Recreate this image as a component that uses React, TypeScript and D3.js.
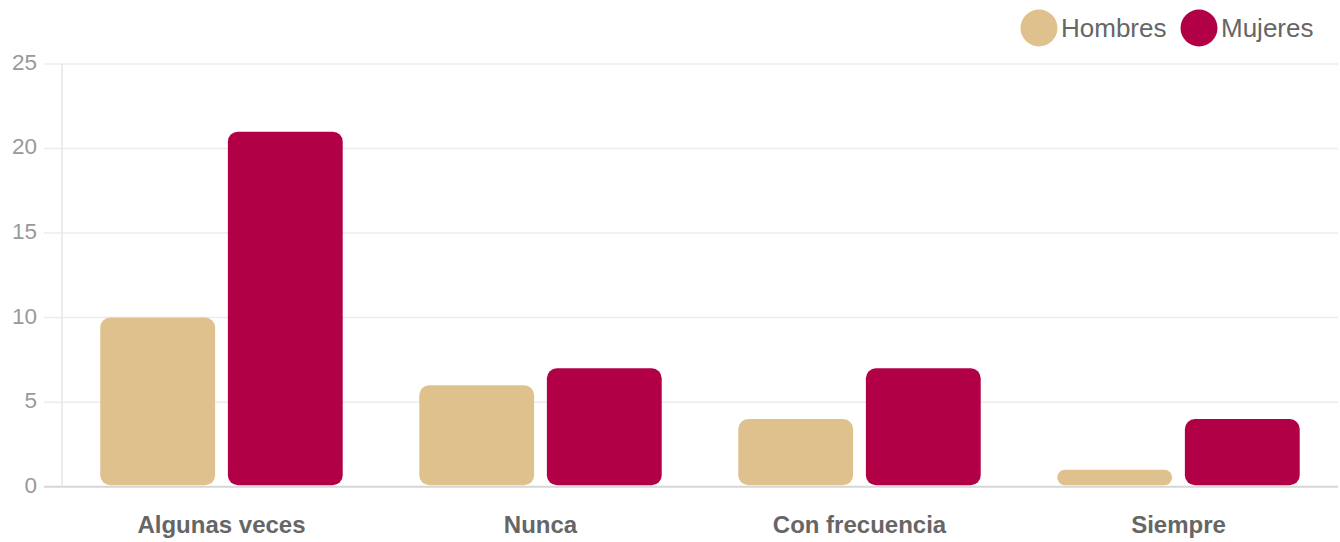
import React from "react";
import * as d3 from "d3";

const categories = ["Algunas veces", "Nunca", "Con frecuencia", "Siempre"];
const seriesNames = ["Hombres", "Mujeres"];
const hombres = [10, 6, 4, 1];
const mujeres = [21, 7, 7, 4];
const yTicks = [0, 5, 10, 15, 20, 25];
const colors = ["#DFC18E", "#B10046"];

const W = 1340;
const H = 542;
const left = 62;
const right = 1338;
const top = 64;
const bottom = 486.7;
const font = "Liberation Sans, Arial, Helvetica, sans-serif";

export default function App() {
  const x = d3.scaleBand<string>().domain(categories).range([left, right]).paddingInner(0).paddingOuter(0);
  const bw = x.bandwidth();
  const inner = d3
    .scaleBand<string>()
    .domain(seriesNames)
    .range([bw * 0.1, bw * 0.9])
    .paddingInner(0.1)
    .paddingOuter(0.05);
  const y = d3.scaleLinear().domain([0, 25]).range([bottom, top]);
  const series = [hombres, mujeres];
  const r = 10;

  return (
    <svg
      width={W}
      height={H}
      style={{ position: "absolute", left: 0, top: 0, background: "#fff" }}
      fontFamily={font}
    >
      {yTicks.map((t) => (
        <g key={t}>
          <line
            x1={44}
            x2={right}
            y1={y(t)}
            y2={y(t)}
            stroke={t === 0 ? "#d6d6d6" : "#ececec"}
            strokeWidth={t === 0 ? 2 : 1.5}
          />
          <text
            x={37}
            y={y(t)}
            textAnchor="end"
            dominantBaseline="middle"
            fontSize={22.5}
            fill="#999"
          >
            {t}
          </text>
        </g>
      ))}
      <line x1={left} x2={left} y1={top} y2={bottom + 1} stroke="#e6e6e6" strokeWidth={1.5} />
      {categories.map((c, i) => (
        <g key={c}>
          {seriesNames.map((s, j) => {
            const v = series[j][i];
            const x0 = (x(c) as number) + (inner(s) as number);
            const w = inner.bandwidth();
            const yt = y(v);
            const h = y(0) - 1.5 - yt;
            return (
              <rect
                key={s}
                x={x0}
                y={yt}
                width={w}
                height={h}
                rx={Math.min(r, h / 2)}
                ry={Math.min(r, h / 2)}
                fill={colors[j]}
              />
            );
          })}
          <text
            x={(x(c) as number) + bw / 2}
            y={533}
            textAnchor="middle"
            fontSize={24}
            fontWeight="bold"
            fill="#666"
          >
            {c}
          </text>
        </g>
      ))}
      {seriesNames.map((s, j) => {
        const cx = j === 0 ? 1039 : 1199;
        return (
          <g key={s}>
            <circle cx={cx} cy={28} r={18.5} fill={colors[j]} />
            <text x={cx + 22} y={37} fontSize={26} fill="#666">
              {s}
            </text>
          </g>
        );
      })}
    </svg>
  );
}
